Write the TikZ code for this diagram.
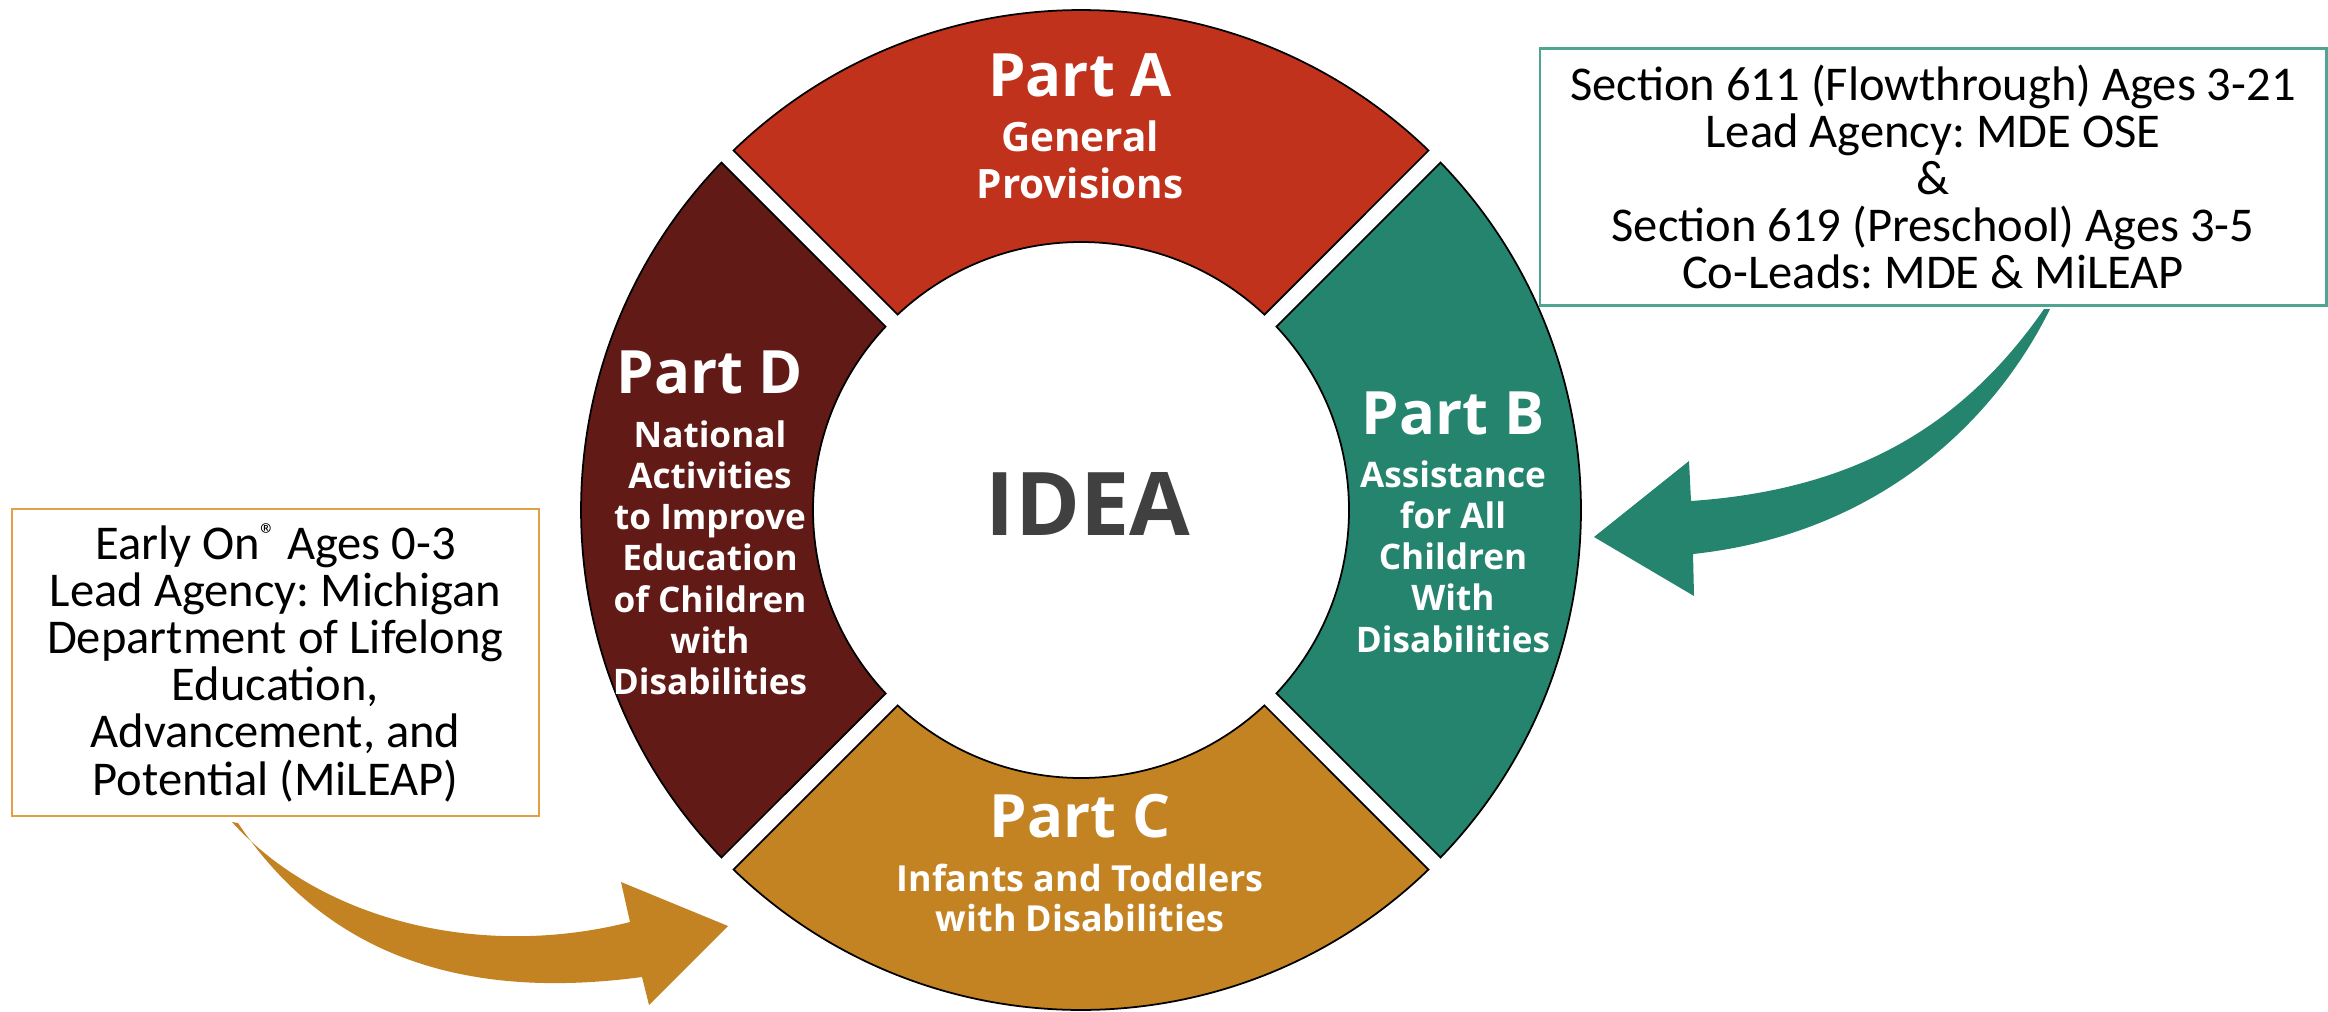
\documentclass[tikz,border=0pt]{standalone}
\usepackage{fontspec}
\newfontfamily\osb{Open Sans}
\newfontfamily\boxf{Carlito}
\definecolor{colA}{RGB}{192,50,28}
\definecolor{colB}{RGB}{37,132,110}
\definecolor{colC}{RGB}{195,131,35}
\definecolor{colD}{RGB}{98,26,22}
\definecolor{ideagray}{RGB}{64,64,64}
\definecolor{tealline}{RGB}{80,165,145}
\definecolor{goldline}{RGB}{226,160,70}
\lineskiplimit=-20pt
\frenchspacing
\newcommand\ringseg[3]{%
  \pgfmathsetmacro\oa{#1+asin(8.5/500)}%
  \pgfmathsetmacro\ob{#2-asin(8.5/500)}%
  \pgfmathsetmacro\ia{#1+asin(8.5/268)}%
  \pgfmathsetmacro\ib{#2-asin(8.5/268)}%
  \fill[#3, draw=black, line width=0.5pt] (\oa:500) arc[start angle=\oa, end angle=\ob, radius=500]
    -- (\ib:268) arc[start angle=\ib, end angle=\ia, radius=268] -- cycle;}
\newcommand\regmark{\raisebox{0.62ex}{\fontsize{9}{9}\selectfont ®}}
\begin{document}
\begin{tikzpicture}[x=0.01cm, y=0.01cm,
  parttitle/.style={text=white, font=\osb\bfseries\fontsize{17}{17}\selectfont, inner sep=0pt, anchor=base},
  subA/.style={text=white, align=center, inner sep=0pt, anchor=north, font=\osb\bfseries\fontsize{11.5}{13.4}\selectfont},
  subBD/.style={text=white, align=center, inner sep=0pt, anchor=north, font=\osb\bfseries\fontsize{10}{11.7}\selectfont},
  subC/.style={text=white, align=center, inner sep=0pt, anchor=north, font=\osb\bfseries\fontsize{10.2}{11.4}\selectfont},
  infobox/.style={align=center, inner sep=0pt, line width=0.7pt, fill=white,
     font=\boxf\fontsize{13.8}{13.4}\selectfont}
]
\useasboundingbox (0,0) rectangle (2328,1011);

% ring
\begin{scope}[shift={(1081,501)}]
  \ringseg{45}{135}{colA}
  \ringseg{-45}{45}{colB}
  \ringseg{225}{315}{colC}
  \ringseg{135}{225}{colD}
\end{scope}

% labels
\node[parttitle] (pA) at (1080,914) {Part A};
\node[subA] (sA) at (1080,891) {General\\Provisions};
\node[parttitle] (pD) at (710,618) {Part D};
\node[subBD] (sD) at (710,591) {National\\Activities\\to Improve\\Education\\of Children\\with\\Disabilities};
\node[parttitle] (pB) at (1453,577) {Part B};
\node[subBD] (sB) at (1453,551) {Assistance\\for All\\Children\\With\\Disabilities};
\node[parttitle] (pC) at (1080,174) {Part C};
\node[subC] (sC) at (1080,148) {Infants and Toddlers\\with Disabilities};
\node[text=ideagray, font=\osb\bfseries\fontsize{25}{25}\selectfont, inner sep=0pt, anchor=base] (idea) at (1088,476) {IDEA};

% boxes
\node[infobox, draw=tealline, minimum width=7.86cm, minimum height=2.57cm] (rbox) at (1933,834)
  {Section 611 (Flowthrough) Ages 3-21\\Lead Agency: MDE OSE\\\&\\Section 619 (Preschool) Ages 3-5\\Co-Leads: MDE \& MiLEAP};
\node[infobox, draw=goldline, minimum width=5.27cm, minimum height=3.07cm] (lbox) at (275.5,348.5)
  {Early On\regmark{} Ages 0-3\\Lead Agency: Michigan\\Department of Lifelong\\Education,\\Advancement, and\\Potential (MiLEAP)};

% teal arrow
\fill[colB] (2044,702) .. controls (1960,581) and (1850,521) .. (1691,510)
  -- (1689,550) -- (1594,474) -- (1694,415) -- (1693,457)
  .. controls (1870,476) and (1990,581) .. (2050,702) -- cycle;

% gold arrow
\fill[colC] (232,189) .. controls (320,91) and (480,51) .. (630,89)
  -- (621,129) -- (728,85) -- (649,6) -- (642,34)
  .. controls (470,11) and (330,51) .. (238,188) -- cycle;
\end{tikzpicture}
\end{document}
